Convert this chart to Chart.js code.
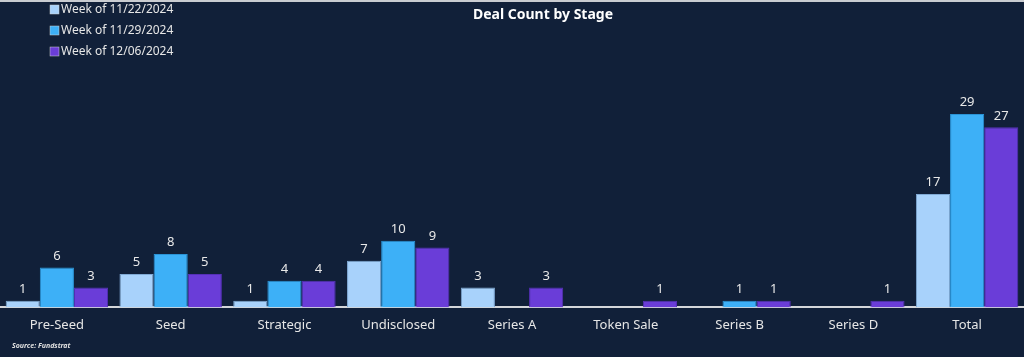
<!DOCTYPE html>
<html>
<head>
<meta charset="utf-8">
<script src="https://cdn.jsdelivr.net/npm/chart.js@4.4.0/dist/chart.umd.min.js"></script>
<style>
  html, body { margin: 0; padding: 0; background: #112039; }
  #wrap { position: relative; width: 1024px; height: 357px; background: #112039; overflow: hidden; }
  #topline { position: absolute; left: 0; top: 0; width: 1024px; height: 2px; background: #c9ccd1; }
  canvas { position: absolute; left: 0; top: 0; }
</style>
</head>
<body>
<div id="wrap">
  <canvas id="c" width="1024" height="357"></canvas>
  <div id="topline"></div>
</div>
<script>
const categories = ["Pre-Seed", "Seed", "Strategic", "Undisclosed", "Series A", "Token Sale", "Series B", "Series D", "Total"];
const seriesNames = ["Week of 11/22/2024", "Week of 11/29/2024", "Week of 12/06/2024"];
const week1122 = [1, 5, 1, 7, 3, 0, 0, 0, 17];
const week1129 = [6, 8, 4, 10, 0, 0, 1, 0, 29];
const week1206 = [3, 5, 4, 9, 3, 1, 1, 1, 27];
const titleText = "Deal Count by Stage";
const sourceText = "Source: Fundstrat";

const colors = ["#a8d2fb", "#3db0f7", "#6a3dd8"];
const borders = ["#7fa9d4", "#2a93d6", "#5530b8"];
const FONT = "'Noto Sans', 'Open Sans', sans-serif";

const labelPlugin = {
  id: 'valueLabels',
  afterDatasetsDraw(chart) {
    const ctx = chart.ctx;
    ctx.save();
    ctx.fillStyle = '#e8e8e8';
    ctx.font = "13px " + FONT;
    ctx.textAlign = 'center';
    ctx.textBaseline = 'bottom';
    chart.data.datasets.forEach((ds, i) => {
      const meta = chart.getDatasetMeta(i);
      meta.data.forEach((bar, j) => {
        const v = ds.data[j];
        if (!v) return;
        ctx.fillText(String(v), bar.x, bar.y - 5);
      });
    });
    ctx.restore();
  }
};

const decorPlugin = {
  id: 'decor',
  afterDraw(chart) {
    const ctx = chart.ctx;
    ctx.save();
    // title
    ctx.fillStyle = '#ffffff';
    ctx.font = "bold 14px " + FONT;
    ctx.textAlign = 'center';
    ctx.textBaseline = 'middle';
    ctx.fillText(titleText, 543, 15);
    // legend
    ctx.font = "12px " + FONT;
    ctx.textAlign = 'left';
    chart.data.datasets.forEach((ds, i) => {
      const y = 10 + i * 21;
      ctx.fillStyle = ds.backgroundColor;
      ctx.fillRect(50, y - 5, 9, 9);
      ctx.strokeStyle = '#d0d0d0';
      ctx.lineWidth = 0.5;
      ctx.strokeRect(50, y - 5, 9, 9);
      ctx.fillStyle = '#e6e6e6';
      ctx.fillText(ds.label, 61, y);
    });
    // source
    ctx.font = "italic bold 7px " + FONT;
    ctx.fillStyle = '#e0e0e0';
    ctx.fillText(sourceText, 12, 346);
    ctx.restore();
  }
};

new Chart(document.getElementById('c'), {
  type: 'bar',
  data: {
    labels: categories,
    datasets: [
      { label: seriesNames[0], data: week1122, backgroundColor: colors[0], borderColor: borders[0], borderWidth: 1 },
      { label: seriesNames[1], data: week1129, backgroundColor: colors[1], borderColor: borders[1], borderWidth: 1 },
      { label: seriesNames[2], data: week1206, backgroundColor: colors[2], borderColor: borders[2], borderWidth: 1 }
    ]
  },
  options: {
    responsive: false,
    animation: false,
    layout: { padding: { top: 74, left: 0, right: 0, bottom: 14 } },
    datasets: { bar: { categoryPercentage: 0.9, barPercentage: 1.0 } },
    plugins: {
      legend: { display: false },
      title: { display: false },
      tooltip: { enabled: false }
    },
    scales: {
      x: {
        grid: { display: false, drawTicks: false },
        border: { display: true, color: '#d4d6da', width: 2 },
        ticks: { color: '#e6e6e6', font: { size: 13, family: FONT }, padding: 10, maxRotation: 0, autoSkip: false }
      },
      y: {
        display: false,
        min: 0,
        max: 35
      }
    }
  },
  plugins: [labelPlugin, decorPlugin]
});
</script>
</body>
</html>
